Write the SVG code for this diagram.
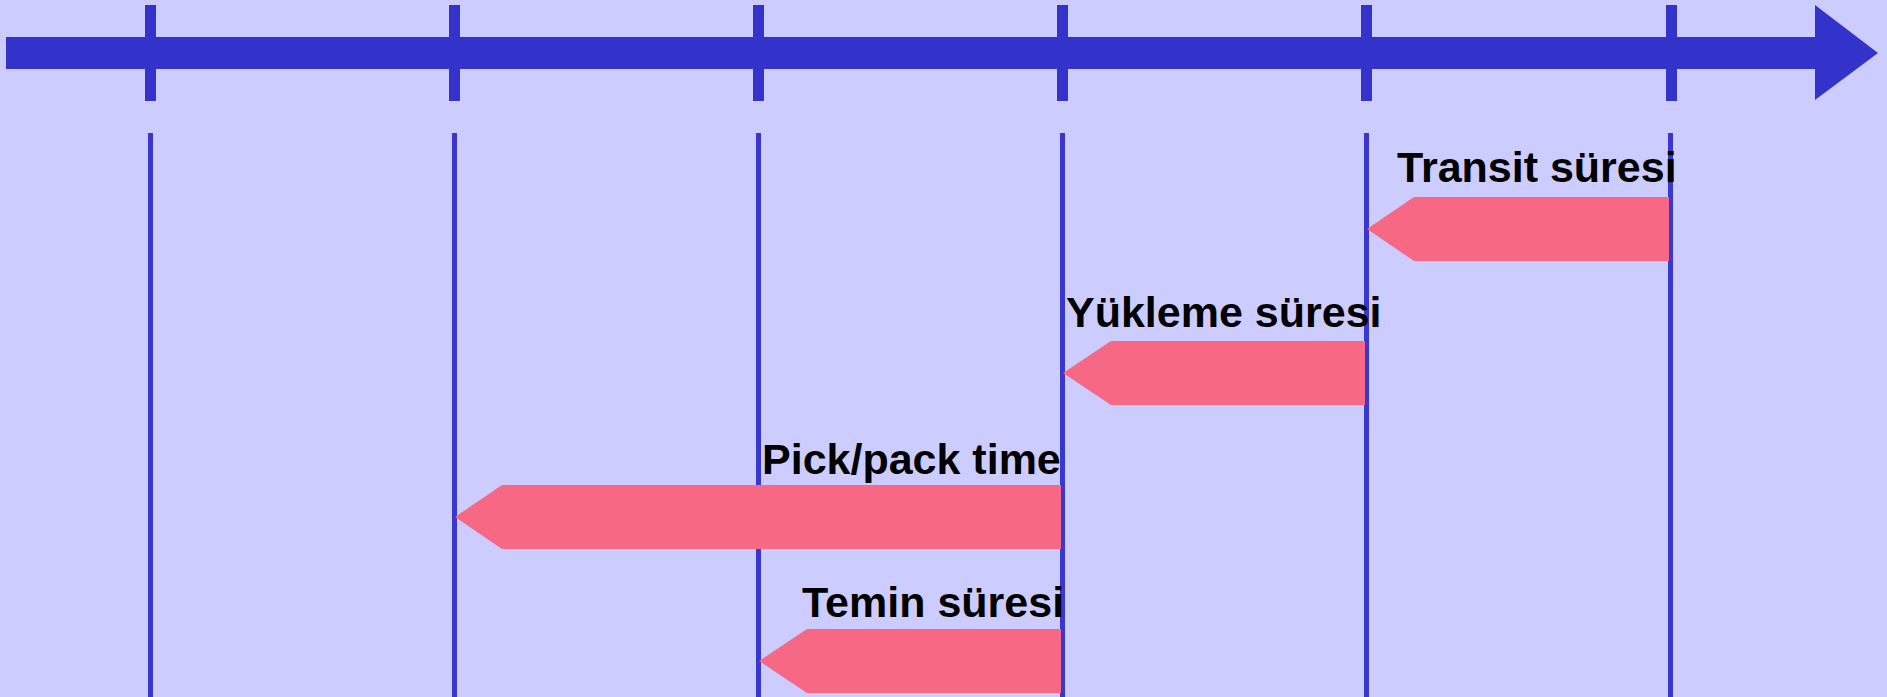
<svg xmlns="http://www.w3.org/2000/svg" width="1887" height="697" viewBox="0 0 1887 697">
<style>
.axis{fill:#3333CC}
.tick{fill:#3333CC}
.vline{stroke:#3838CF;stroke-width:5}
.bar{fill:#F66884}
.lbl{font-family:"Liberation Sans",Arial,sans-serif;font-weight:bold;font-size:43px;fill:#000}
</style>
<rect x="0" y="0" width="1887" height="697" fill="#CCCCFF"/>
<g id="axis">
<rect class="axis" x="6" y="37" width="1810" height="32"/>
<polygon class="axis" points="1815,5 1878,53 1815,100"/>
<rect class="tick" x="145" y="5" width="11" height="96"/>
<rect class="tick" x="449" y="5" width="11" height="96"/>
<rect class="tick" x="753" y="5" width="11" height="96"/>
<rect class="tick" x="1057" y="5" width="11" height="96"/>
<rect class="tick" x="1361" y="5" width="11" height="96"/>
<rect class="tick" x="1666" y="5" width="11" height="96"/>
</g>
<g id="connectors">
<line class="vline" x1="150.5" y1="133" x2="150.5" y2="697"/>
<line class="vline" x1="454.5" y1="133" x2="454.5" y2="697"/>
<line class="vline" x1="758.5" y1="133" x2="758.5" y2="697"/>
<line class="vline" x1="1062.5" y1="133" x2="1062.5" y2="697"/>
<line class="vline" x1="1366.5" y1="133" x2="1366.5" y2="697"/>
<line class="vline" x1="1670.5" y1="133" x2="1670.5" y2="697"/>
</g>
<g id="transit">
<polygon class="bar" points="1367,229 1414,197 1669,197 1669,261 1414,261"/>
<text class="lbl" x="1397" y="182">Transit süresi</text>
</g>
<g id="yukleme">
<polygon class="bar" points="1063,373 1111,341 1365,341 1365,405 1111,405"/>
<text class="lbl" x="1066" y="327">Yükleme süresi</text>
</g>
<g id="pickpack">
<polygon class="bar" points="455,517 502,485 1061,485 1061,549 502,549"/>
<text class="lbl" x="762" y="474">Pick/pack time</text>
</g>
<g id="temin">
<polygon class="bar" points="759,661 807,629 1061,629 1061,693 807,693"/>
<text class="lbl" x="802" y="617">Temin süresi</text>
</g>
</svg>
